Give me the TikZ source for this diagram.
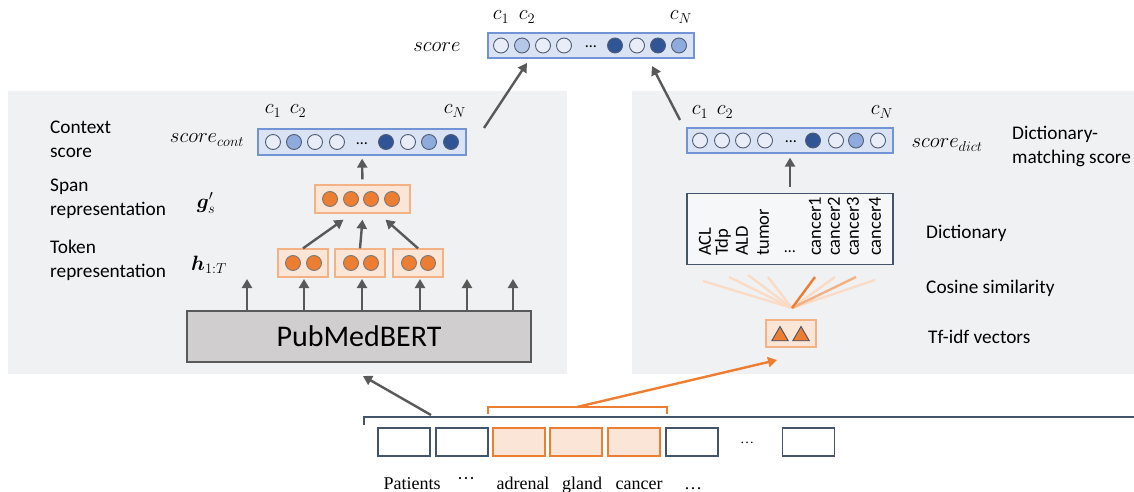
\documentclass[tikz,border=0pt]{standalone}
\usepackage{fontspec}
\setmainfont{Carlito}
\newfontfamily\timesf{Liberation Serif}
\usepackage{amsmath,bm}
\usetikzlibrary{arrows.meta,shapes.geometric}
\definecolor{panelc}{RGB}{240,241,243}
\definecolor{vecfill}{RGB}{218,227,243}
\definecolor{vecline}{RGB}{114,148,214}
\definecolor{cirline}{RGB}{80,92,115}
\definecolor{cw}{RGB}{232,237,247}
\definecolor{cl}{RGB}{180,199,231}
\definecolor{cm}{RGB}{143,170,220}
\definecolor{cd}{RGB}{47,85,151}
\definecolor{org}{RGB}{237,125,49}
\definecolor{orgfill}{RGB}{251,229,214}
\definecolor{orgline}{RGB}{244,177,131}
\definecolor{arrc}{RGB}{89,89,89}
\definecolor{slate}{RGB}{68,84,106}
\definecolor{bertfill}{RGB}{208,206,206}
\definecolor{pale}{RGB}{250,220,198}
\definecolor{midorg}{RGB}{244,177,131}
\tikzset{
 panelbox/.style={fill=panelc, inner sep=0pt, outer sep=0pt},
 vecbox/.style={fill=vecfill, draw=vecline, line width=1.3pt, inner sep=0pt, minimum height=25pt},
 dot/.style={circle, draw=cirline, line width=0.9pt, minimum size=15pt, inner sep=0pt},
 odot/.style={dot, fill=org, draw=arrc!80},
 obox/.style={fill=orgfill, draw=orgline, line width=1.3pt, inner sep=0pt},
 arr/.style={draw=arrc, line width=2.4pt, -{Triangle[length=9pt,width=10pt]}},
 oarr/.style={draw=org, line width=2.4pt, -{Triangle[length=9pt,width=10pt]}},
 lbl/.style={font=\fontsize{19.3}{24}\selectfont, align=left, anchor=west, inner sep=0pt},
 mlbl/.style={font=\fontsize{21}{24}\selectfont, inner sep=0pt},
 clbl/.style={font=\fontsize{22}{24}\selectfont, inner sep=0pt},
 wbox/.style={draw=slate, line width=1.6pt, fill=white, minimum width=52pt, minimum height=28pt, inner sep=0pt},
 hbox/.style={draw=org, line width=1.6pt, fill=orgfill, minimum width=52pt, minimum height=28pt, inner sep=0pt},
 word/.style={font=\timesf\fontsize{18}{20}\selectfont, anchor=base, inner sep=0pt},
 dictw/.style={font=\fontsize{18.5}{20}\selectfont, rotate=90, anchor=west, inner sep=0pt},
 cosl/.style={line width=2.4pt, draw=pale},
 tri/.style={regular polygon, regular polygon sides=3, fill=org, draw=slate, line width=0.9pt, minimum size=19pt, inner sep=0pt},
 ell/.style={font=\fontsize{16}{16}\selectfont, inner sep=0pt},
}
\begin{document}
\begin{tikzpicture}[x=1pt,y=-1pt]
\useasboundingbox (0,0) rectangle (1134,492);
% panels
\node[panelbox, minimum width=559pt, minimum height=283pt] (lp) at (287.5,232.5) {};
\node[panelbox, minimum width=502pt, minimum height=283pt] (rp) at (883,232.5) {};

% top score vector
\node[vecbox, minimum width=206pt] (top) at (591,45.5) {};
\foreach \x/\c [count=\i] in {501/cw,522/cl,543/cw,564/cw,615/cd,637/cw,658/cd,679/cm}
  \node[dot, fill=\c] (top\i) at (\x,45.5) {};
\node[ell] (topdots) at (591,47) {\dots};
\node[mlbl] (topl) at (437,47) {$score$};
\node[clbl] (topc1) at (501,17) {$c_1$};
\node[clbl] (topc2) at (527,17) {$c_2$};
\node[clbl] (topcN) at (681,17) {$c_N$};

% left panel: context score
\node[vecbox, minimum width=208pt, minimum height=26pt] (cont) at (362,142) {};
\foreach \x/\c [count=\i] in {273/cw,294/cm,315/cw,337/cw,386/cd,408/cw,429/cm,451/cd}
  \node[dot, fill=\c] (cont\i) at (\x,142) {};
\node[ell] (contdots) at (362,144) {\dots};
\node[mlbl] (contl) at (207,140) {$score_{cont}$};
\node[clbl] (contc1) at (273,111) {$c_1$};
\node[clbl] (contc2) at (298,111) {$c_2$};
\node[clbl] (contcN) at (455,111) {$c_N$};

% span
\node[obox, minimum width=95pt, minimum height=28pt] (span) at (362.5,199) {};
\foreach \x [count=\i] in {330,351,371,392}
  \node[odot] (span\i) at (\x,199) {};
\node[mlbl, font=\fontsize{22}{24}\selectfont] (gl) at (206,203) {$\bm{g}'_{s}$};

% tokens
\node[obox, minimum width=50pt, minimum height=28pt] (tok1) at (303,263) {};
\node[obox, minimum width=50pt, minimum height=28pt] (tok2) at (360,263) {};
\node[obox, minimum width=50pt, minimum height=28pt] (tok3) at (418,263) {};
\foreach \x [count=\i] in {293,314,351,371,409,428}
  \node[odot] (tk\i) at (\x,263) {};
\node[mlbl, font=\fontsize{22}{24}\selectfont] (hl) at (209,265) {$\bm{h}_{1:T}$};

% labels
\node[lbl] (lctx) at (50,139) {Context\\score};
\node[lbl] (lspan) at (50,199) {Span\\representation};
\node[lbl] (ltok) at (50,260) {Token\\representation};

% PubMedBERT
\node[fill=bertfill, draw=arrc, line width=1.3pt, minimum width=344pt, minimum height=51pt, inner sep=0pt, font=\fontsize{30}{34}\selectfont] (bert) at (359,336.5) {PubMedBERT};
\foreach \x [count=\i] in {247,304,362,420,467,513}{
  \coordinate (bt\i) at (\x,279);
  \draw[arr] (bert.north -| bt\i) -- (bt\i);
}
\draw[arr] (tok1.north) -- ([xshift=-19pt,yshift=-6pt]span.south);
\draw[arr] (tok2.north) -- ([yshift=-6pt]span.south);
\draw[arr] (tok3.north) -- ([xshift=23pt,yshift=-6pt]span.south);
\draw[arr, shorten <=5pt, shorten >=3pt] (span.north) -- (cont.south);

% right panel
\node[vecbox, minimum width=206pt] (sdict) at (790,140.5) {};
\foreach \x/\c [count=\i] in {700/cw,722/cw,743/cw,765/cw,813/cd,836/cw,856/cm,878/cw}
  \node[dot, fill=\c] (sd\i) at (\x,140.5) {};
\node[ell] (sddots) at (791,142) {\dots};
\node[mlbl] (sdl) at (947,145) {$score_{dict}$};
\node[clbl] (sdc1) at (700,112) {$c_1$};
\node[clbl] (sdc2) at (725,112) {$c_2$};
\node[clbl] (sdcN) at (882,112) {$c_N$};
\node[lbl] (ldm) at (1012,146) {Dictionary-\\matching score};

\node[draw=slate, line width=1.3pt, fill=panelc!60!white, minimum width=206pt, minimum height=71pt, inner sep=0pt] (dict) at (790,229) {};
\foreach \x/\w [count=\i] in {705/ACL,723/Tdp,742/ALD,763/tumor,815/cancer1,834/cancer2,853/cancer3,875/cancer4}
  \node[dictw] (dw\i) at (\x,256) {\w};
\node[ell] (dwdots) at (790,252) {\dots};
\draw[arr, shorten <=6pt, shorten >=4pt] (dict.north) -- (sdict.south);
\node[lbl] (ldict) at (926,233) {Dictionary};

% cosine similarity lines
\coordinate (apex) at (792,308);
\foreach \x/\y [count=\i] in {703/281,729/277,748/275,768/277,835/277,875/280}{
  \coordinate (cs\i) at (\x,\y);
  \draw[cosl] (apex) -- (cs\i);
}
\coordinate (csm) at (856,277);
\coordinate (csd) at (815,277);
\draw[cosl, draw=midorg] (apex) -- (csm);
\draw[cosl, draw=org] (apex) -- (csd);
\node[lbl] (lcos) at (926,288) {Cosine similarity};

% tf-idf
\node[obox, minimum width=50pt, minimum height=27pt] (tfidf) at (791,333.5) {};
\node[tri] (tri1) at (780,336) {};
\node[tri] (tri2) at (801,336) {};
\node[lbl] (ltf) at (928,337) {Tf-idf vectors};

% arrows to top
\coordinate (la) at (484,128);
\coordinate (lb) at (527,63);
\draw[arr] (la) -- (lb);
\coordinate (ra) at (680,120);
\coordinate (rb) at (652,66);
\draw[arr] (ra) -- (rb);

% bottom tokens
\foreach \x/\s [count=\i] in {404/wbox,462/wbox,519/hbox,576/hbox,634/hbox,692/wbox,808.5/wbox}
  \node[\s] (w\i) at (\x,442) {};
\node[ell, font=\timesf\fontsize{14}{16}\selectfont] (wdots) at (747,443) {\dots};

% brackets
\draw[draw=slate, line width=2.8pt] (364,425) -- (364,417) -- (1134,417);
\draw[draw=org, line width=2.8pt] (488,414) -- (488,407) -- (667,407) -- (667,414);
\coordinate (ga) at (431,415);
\coordinate (gb) at (363,376);
\draw[arr] (ga) -- (gb);
\coordinate (oa) at (577,407);
\coordinate (ob) at (777,360);
\draw[oarr] (oa) -- (ob);

% words
\node[word] (p1) at (412,489) {Patients};
\node[word] (p2) at (466,484) {\textperiodcentered\textperiodcentered\textperiodcentered};
\node[word] (p3) at (523,489) {adrenal};
\node[word] (p4) at (582,489) {gland};
\node[word] (p5) at (639,489) {cancer};
\node[word] (p6) at (693,489) {\dots};
\end{tikzpicture}
\end{document}
